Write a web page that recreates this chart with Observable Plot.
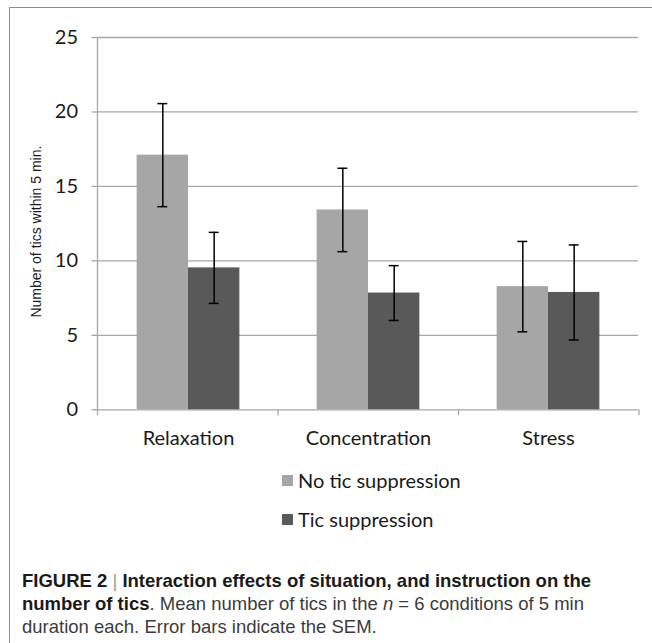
<!DOCTYPE html>
<html>
<head>
<meta charset="utf-8">
<script src="https://cdn.jsdelivr.net/npm/d3@7"></script>
<script src="https://cdn.jsdelivr.net/npm/@observablehq/plot@0.6"></script>
<style>
  html, body { margin: 0; padding: 0; background: #fff; }
  #wrap { position: relative; width: 652px; height: 643px; overflow: hidden; }
  #border { position: absolute; left: 9px; top: 7px; right: -2px; bottom: -2px;
            border-left: 1px solid #8c8c8c; border-top: 1px solid #8c8c8c; }
  #chart { position: absolute; left: 0; top: 0; }
  #chart svg { display: block; overflow: visible; }
  .legend { position: absolute; left: 282px; top: 460.5px; font-family: Lato, sans-serif;
            font-size: 20px; color: #1a1a1a; }
  .legend .row { height: 39px; display: flex; align-items: center; }
  .legend .sw { width: 11px; height: 11px; margin-right: 5px; flex: none; }
  .caption { position: absolute; left: 22px; top: 568.5px; width: 630px;
             font-family: "Liberation Sans", Arial, sans-serif; font-size: 18.5px;
             line-height: 23px; color: #3c3c3c; white-space: nowrap; }
  .caption b { color: #1a1a1a; }
  .caption .sep { color: #999; font-weight: normal; }
</style>
</head>
<body>
<div id="wrap">
  <div id="border"></div>
  <div id="chart"></div>
  <div class="legend" id="legend"></div>
  <div class="caption">
    <b>FIGURE 2 <span class="sep">|</span> Interaction effects of situation, and instruction on the</b><br>
    <b>number of tics</b>. Mean number of tics in the <i>n</i> = 6 conditions of 5 min<br>
    duration each. Error bars indicate the SEM.
  </div>
</div>
<script>
const categories = ["Relaxation", "Concentration", "Stress"];
const seriesNames = ["No tic suppression", "Tic suppression"];
const noSuppressionMean = [17.1, 13.42, 8.27];
const noSuppressionSem = [3.46, 2.8, 3.035];
const suppressionMean = [9.53, 7.84, 7.88];
const suppressionSem = [2.385, 1.84, 3.19];
const yTicks = [0, 5, 10, 15, 20, 25];
const seriesColors = ["#a6a6a6", "#595959"];
const yLabel = "Number of tics within 5 min.";

const rows = [];
categories.forEach((c, i) => {
  rows.push({category: c, series: seriesNames[0], mean: noSuppressionMean[i], sem: noSuppressionSem[i]});
  rows.push({category: c, series: seriesNames[1], mean: suppressionMean[i], sem: suppressionSem[i]});
});

const gridColor = "#a6a6a6";

const chart = Plot.plot({
  width: 652,
  height: 455,
  marginLeft: 97.5,
  marginRight: 13,
  marginTop: 37,
  marginBottom: 45.7,
  style: {fontFamily: "Lato, sans-serif", fontSize: "20px", color: "#1a1a1a", background: "transparent", overflow: "visible"},
  fx: {domain: categories, padding: 0, label: null},
  x: {domain: seriesNames, paddingInner: 0, paddingOuter: 0.7524, axis: null, round: false},
  y: {domain: [0, 25], label: null},
  color: {domain: seriesNames, range: seriesColors},
  marks: [
    Plot.ruleY(yTicks, {stroke: gridColor, strokeWidth: 1.3}),
    Plot.barY(rows, {fx: "category", x: "series", y: "mean", fill: "series"}),
    Plot.ruleX(rows, {fx: "category", x: "series", y1: d => d.mean - d.sem, y2: d => d.mean + d.sem, stroke: "#000", strokeWidth: 1.5}),
    Plot.tickY(rows, {fx: "category", x: "series", y: d => d.mean - d.sem, stroke: "#000", strokeWidth: 1.5, insetLeft: 20.75, insetRight: 20.75}),
    Plot.tickY(rows, {fx: "category", x: "series", y: d => d.mean + d.sem, stroke: "#000", strokeWidth: 1.5, insetLeft: 20.75, insetRight: 20.75}),
    Plot.axisY(yTicks, {anchor: "left", tickSize: 6.5, tickPadding: 14, stroke: gridColor, strokeWidth: 1.3, fill: "#1a1a1a", label: null}),
    Plot.axisFx({anchor: "bottom", tickSize: 0, tickPadding: 21, label: null, fill: "#1a1a1a"}),
    Plot.text([{category: categories[0], label: yLabel}], {fx: "category", text: "label", frameAnchor: "left", textAnchor: "middle", rotate: -90, dx: -61.5, dy: 8, fontFamily: "'Liberation Sans', Arial, sans-serif", fontSize: 14, fill: "#1a1a1a"})
  ]
});

document.getElementById("chart").appendChild(chart);

// category boundary tick marks and y axis line, placed through Plot's own scales
const fxS = chart.scale("fx");
const yS = chart.scale("y");
const band = d3.scaleBand()
  .domain(fxS.domain)
  .range(fxS.range)
  .paddingInner(fxS.paddingInner ?? 0)
  .paddingOuter(fxS.paddingOuter ?? 0)
  .align(fxS.align ?? 0.5);
const yFn = yS.apply ? yS.apply : d3.scaleLinear().domain(yS.domain).range(yS.range);
const y0 = yFn(0), yTop = yFn(d3.max(yTicks));
const bounds = categories.map(c => band(c));
bounds.push(band(categories[categories.length - 1]) + band.step());
d3.select(chart).append("g")
  .attr("stroke", gridColor).attr("stroke-width", 1.3)
  .selectAll("line").data(bounds).join("line")
  .attr("x1", d => d).attr("x2", d => d)
  .attr("y1", (d, i) => i === 0 ? yTop : y0)
  .attr("y2", y0 + 6);

// legend
const legend = d3.select("#legend");
seriesNames.forEach((s, i) => {
  const row = legend.append("div").attr("class", "row");
  row.append("span").attr("class", "sw").style("background", seriesColors[i]);
  row.append("span").text(s);
});
</script>
</body>
</html>
